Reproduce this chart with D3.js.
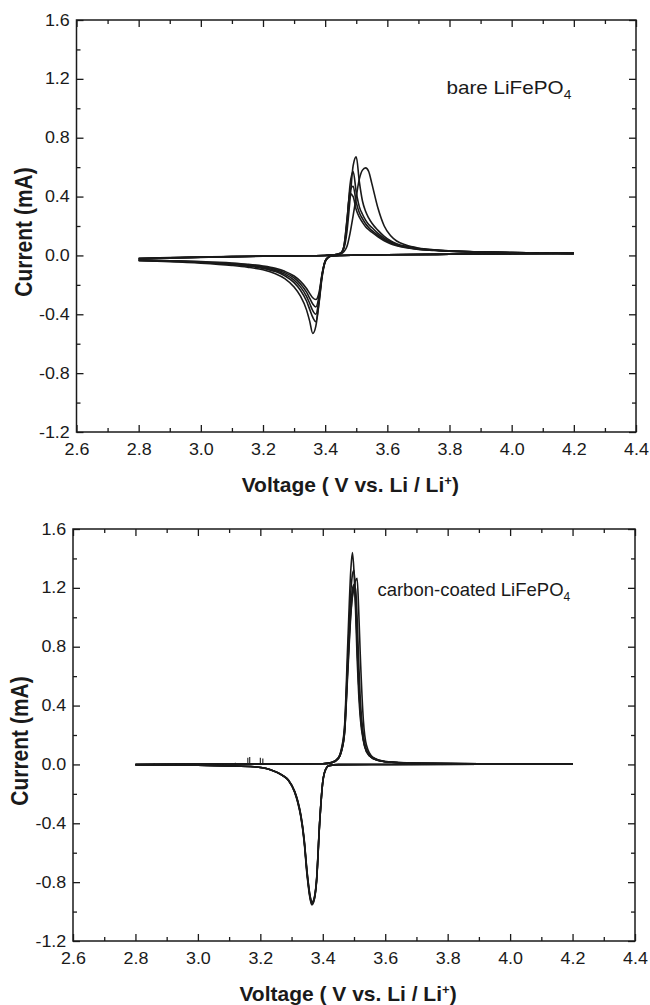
<!DOCTYPE html>
<html>
<head>
<meta charset="utf-8">
<script src="https://cdnjs.cloudflare.com/ajax/libs/d3/7.8.5/d3.min.js"></script>
<style>
body { margin: 0; background: #fff; }
svg { display: block; }
</style>
</head>
<body>
<div id="chart"></div>
<script>
// axis ticks
let xTicks = [2.6, 2.8, 3.0, 3.2, 3.4, 3.6, 3.8, 4.0, 4.2, 4.4];
let xMinor = [2.7, 2.9, 3.1, 3.3, 3.5, 3.7, 3.9, 4.1, 4.3];
let yTicks = [-1.2, -0.8, -0.4, 0.0, 0.4, 0.8, 1.2, 1.6];
let yMinor = [-1.0, -0.6, -0.2, 0.2, 0.6, 1.0, 1.4];

// bare LiFePO4 : anodic sweeps (2.8 -> 4.2 V)
let topAnV = [2.80, 2.90, 3.00, 3.10, 3.20, 3.30, 3.40, 3.43, 3.45, 3.46, 3.47, 3.48, 3.49, 3.50, 3.51, 3.52, 3.53, 3.54, 3.55, 3.57, 3.59, 3.61, 3.63, 3.66, 3.70, 3.75, 3.80, 3.90, 4.00, 4.10, 4.20];
let topAn1 = [-0.020, -0.015, -0.011, -0.008, -0.005, -0.003, 0.000, 0.003, 0.010, 0.025, 0.060, 0.150, 0.270, 0.400, 0.520, 0.580, 0.595, 0.570, 0.490, 0.320, 0.200, 0.135, 0.098, 0.070, 0.050, 0.038, 0.031, 0.024, 0.019, 0.016, 0.014];
let topAn2 = [-0.022, -0.016, -0.012, -0.008, -0.005, -0.003, 0.000, 0.004, 0.014, 0.045, 0.160, 0.380, 0.610, 0.670, 0.500, 0.370, 0.300, 0.255, 0.220, 0.170, 0.130, 0.100, 0.080, 0.062, 0.047, 0.037, 0.031, 0.024, 0.019, 0.016, 0.014];
let topAn3 = [-0.022, -0.016, -0.012, -0.008, -0.005, -0.003, 0.000, 0.004, 0.016, 0.055, 0.210, 0.480, 0.570, 0.430, 0.330, 0.280, 0.240, 0.210, 0.190, 0.150, 0.118, 0.093, 0.075, 0.058, 0.045, 0.036, 0.030, 0.024, 0.019, 0.016, 0.014];
let topAn4 = [-0.023, -0.017, -0.012, -0.008, -0.005, -0.003, 0.000, 0.004, 0.016, 0.058, 0.230, 0.440, 0.470, 0.360, 0.290, 0.250, 0.215, 0.190, 0.170, 0.137, 0.108, 0.086, 0.070, 0.055, 0.043, 0.035, 0.029, 0.023, 0.019, 0.016, 0.014];
let topAn5 = [-0.024, -0.018, -0.013, -0.009, -0.006, -0.003, 0.000, 0.004, 0.017, 0.060, 0.240, 0.420, 0.400, 0.310, 0.260, 0.225, 0.195, 0.175, 0.158, 0.127, 0.100, 0.080, 0.066, 0.052, 0.041, 0.034, 0.028, 0.023, 0.018, 0.015, 0.014];

// bare LiFePO4 : cathodic sweeps (4.2 -> 2.8 V)
let topCaV = [2.80, 2.90, 3.00, 3.10, 3.15, 3.20, 3.24, 3.27, 3.30, 3.32, 3.34, 3.35, 3.36, 3.37, 3.38, 3.39, 3.40, 3.41, 3.42, 3.45, 3.50, 3.60, 3.80, 4.00, 4.20];
let topCa1 = [-0.036, -0.042, -0.052, -0.068, -0.080, -0.098, -0.125, -0.158, -0.215, -0.275, -0.370, -0.445, -0.530, -0.480, -0.330, -0.150, -0.045, -0.014, -0.004, 0.000, 0.002, 0.005, 0.008, 0.011, 0.013];
let topCa2 = [-0.034, -0.040, -0.048, -0.062, -0.073, -0.088, -0.110, -0.138, -0.185, -0.235, -0.310, -0.365, -0.420, -0.450, -0.320, -0.140, -0.042, -0.013, -0.004, 0.000, 0.002, 0.005, 0.008, 0.011, 0.013];
let topCa3 = [-0.033, -0.039, -0.046, -0.058, -0.068, -0.082, -0.102, -0.127, -0.168, -0.212, -0.278, -0.325, -0.375, -0.400, -0.300, -0.135, -0.040, -0.013, -0.004, 0.000, 0.002, 0.005, 0.008, 0.011, 0.013];
let topCa4 = [-0.032, -0.037, -0.044, -0.055, -0.064, -0.077, -0.095, -0.117, -0.153, -0.192, -0.250, -0.290, -0.330, -0.350, -0.280, -0.130, -0.038, -0.012, -0.004, 0.000, 0.002, 0.005, 0.008, 0.011, 0.013];
let topCa5 = [-0.031, -0.036, -0.042, -0.052, -0.060, -0.072, -0.088, -0.108, -0.140, -0.175, -0.225, -0.258, -0.288, -0.300, -0.255, -0.125, -0.036, -0.012, -0.004, 0.000, 0.002, 0.005, 0.008, 0.011, 0.013];

// carbon-coated LiFePO4 : anodic sweeps
let botAnV = [2.80, 3.00, 3.20, 3.40, 3.43, 3.45, 3.46, 3.47, 3.48, 3.49, 3.495, 3.50, 3.505, 3.51, 3.515, 3.52, 3.53, 3.54, 3.56, 3.60, 3.70, 3.90, 4.20];
let botAn1 = [0.000, 0.002, 0.003, 0.005, 0.014, 0.045, 0.110, 0.270, 0.820, 1.330, 1.440, 1.310, 1.050, 0.720, 0.480, 0.320, 0.160, 0.085, 0.040, 0.018, 0.008, 0.004, 0.003];
let botAn2 = [0.000, 0.002, 0.003, 0.005, 0.014, 0.045, 0.100, 0.250, 0.720, 1.180, 1.290, 1.320, 1.150, 0.850, 0.550, 0.360, 0.170, 0.090, 0.042, 0.018, 0.008, 0.004, 0.003];
let botAn3 = [0.000, 0.002, 0.003, 0.005, 0.013, 0.040, 0.090, 0.220, 0.620, 1.020, 1.150, 1.210, 1.250, 1.265, 1.050, 0.750, 0.300, 0.130, 0.050, 0.020, 0.009, 0.004, 0.003];
let botAn4 = [0.000, 0.002, 0.003, 0.005, 0.013, 0.040, 0.095, 0.230, 0.680, 1.080, 1.190, 1.220, 1.100, 0.820, 0.550, 0.370, 0.170, 0.090, 0.042, 0.018, 0.008, 0.004, 0.003];
let botAn5 = [0.000, 0.002, 0.003, 0.005, 0.013, 0.040, 0.090, 0.220, 0.650, 1.040, 1.140, 1.190, 1.200, 1.000, 0.700, 0.450, 0.200, 0.100, 0.045, 0.019, 0.008, 0.004, 0.003];

// carbon-coated LiFePO4 : cathodic sweeps
let botCaV = [2.80, 3.00, 3.10, 3.18, 3.23, 3.27, 3.29, 3.31, 3.32, 3.33, 3.34, 3.35, 3.36, 3.365, 3.37, 3.38, 3.39, 3.40, 3.41, 3.42, 3.45, 3.60, 4.20];
let botCa1 = [-0.002, -0.006, -0.010, -0.016, -0.035, -0.075, -0.110, -0.190, -0.260, -0.360, -0.520, -0.760, -0.920, -0.955, -0.940, -0.800, -0.400, -0.120, -0.030, -0.008, -0.001, 0.000, 0.002];
let botCa2 = [-0.002, -0.006, -0.010, -0.016, -0.034, -0.073, -0.107, -0.185, -0.252, -0.350, -0.505, -0.740, -0.905, -0.940, -0.930, -0.790, -0.395, -0.118, -0.030, -0.008, -0.001, 0.000, 0.002];
let botCa3 = [-0.002, -0.006, -0.010, -0.016, -0.034, -0.072, -0.105, -0.182, -0.248, -0.345, -0.500, -0.735, -0.900, -0.935, -0.925, -0.785, -0.390, -0.117, -0.029, -0.008, -0.001, 0.000, 0.002];
let botCa4 = [-0.002, -0.006, -0.010, -0.016, -0.035, -0.074, -0.108, -0.188, -0.256, -0.355, -0.512, -0.750, -0.912, -0.948, -0.935, -0.795, -0.398, -0.119, -0.030, -0.008, -0.001, 0.000, 0.002];

// small noise spikes on the carbon-coated baseline
let spikeV = [2.86, 2.93, 2.99, 3.04, 3.09, 3.12, 3.160, 3.166, 3.200, 3.208];
let spikeI = [0.006, 0.008, 0.006, 0.010, 0.008, 0.012, 0.045, 0.050, 0.045, 0.040];

let font = "'Liberation Sans', Arial, Helvetica, sans-serif";
let ink = "#1a1a1a";

let svg = d3.select("#chart").append("svg")
	.attr("width", 650)
	.attr("height", 1005);

function zip(v, c) {
	return v.map(function(d, i) { return [d, c[i]]; });
}

function drawPanel(p) {
	let x = d3.scaleLinear().domain([2.6, 4.4]).range([p.left, p.right]);
	let y = d3.scaleLinear().domain([-1.2, 1.6]).range([p.bottom, p.top]);
	let g = svg.append("g");

	let line = d3.line()
		.x(function(d) { return x(d[0]); })
		.y(function(d) { return y(d[1]); })
		.curve(d3.curveMonotoneX);

	// sweeps
	p.curves.forEach(function(c) {
		g.append("path")
			.attr("d", line(c))
			.attr("fill", "none")
			.attr("stroke", ink)
			.attr("stroke-width", 1.6)
			.attr("stroke-linejoin", "round");
	});

	if (p.spikes) {
		g.selectAll(".spike")
			.data(p.spikes)
			.enter().append("line")
			.attr("class", "spike")
			.attr("x1", function(d) { return x(d[0]); })
			.attr("x2", function(d) { return x(d[0]); })
			.attr("y1", y(0))
			.attr("y2", function(d) { return y(d[1]); })
			.attr("stroke", ink)
			.attr("stroke-width", 1.1);
	}

	let fmt = function(d) { return d.toFixed(1); };

	// labelled axes, ticks pointing inward
	g.append("g").attr("transform", "translate(0," + p.bottom + ")")
		.call(d3.axisBottom(x).tickValues(xTicks).tickSize(-7).tickPadding(12).tickFormat(fmt));
	g.append("g").attr("transform", "translate(" + p.left + ",0)")
		.call(d3.axisLeft(y).tickValues(yTicks).tickSize(-7).tickPadding(6).tickFormat(fmt));
	g.append("g").attr("transform", "translate(0," + p.top + ")")
		.call(d3.axisTop(x).tickValues(xTicks).tickSize(-7).tickFormat(""));
	g.append("g").attr("transform", "translate(" + p.right + ",0)")
		.call(d3.axisRight(y).tickValues(yTicks).tickSize(-7).tickFormat(""));

	// minor ticks
	g.append("g").attr("transform", "translate(0," + p.bottom + ")")
		.call(d3.axisBottom(x).tickValues(xMinor).tickSize(-4).tickFormat(""));
	g.append("g").attr("transform", "translate(0," + p.top + ")")
		.call(d3.axisTop(x).tickValues(xMinor).tickSize(-4).tickFormat(""));
	g.append("g").attr("transform", "translate(" + p.left + ",0)")
		.call(d3.axisLeft(y).tickValues(yMinor).tickSize(-4).tickFormat(""));
	g.append("g").attr("transform", "translate(" + p.right + ",0)")
		.call(d3.axisRight(y).tickValues(yMinor).tickSize(-4).tickFormat(""));

	g.selectAll(".domain").remove();
	g.selectAll(".tick line").attr("stroke", ink).attr("stroke-width", 1.3);
	g.selectAll(".tick text")
		.attr("fill", ink)
		.style("font-family", font)
		.style("font-size", "16px")
		.attr("transform", "scale(1.12,1)");

	// frame
	g.append("rect")
		.attr("x", p.left)
		.attr("y", p.top)
		.attr("width", p.right - p.left)
		.attr("height", p.bottom - p.top)
		.attr("fill", "none")
		.attr("stroke", ink)
		.attr("stroke-width", 1.5);

	// axis titles
	let xt = g.append("text")
		.attr("x", (p.left + p.right) / 2 - 6)
		.attr("y", p.bottom + 60)
		.attr("text-anchor", "middle")
		.attr("fill", ink)
		.style("font-family", font)
		.style("font-size", "21px")
		.style("font-weight", "bold");
	xt.append("tspan").text("Voltage ( V vs. Li / Li");
	xt.append("tspan").attr("dy", -7).style("font-size", "13px").text("+");
	xt.append("tspan").attr("dy", 7).text(")");

	g.append("text")
		.attr("transform", "translate(" + (p.left - 45) + "," + ((p.top + p.bottom) / 2 + 6) + ") scale(1.18,1) rotate(-90)")
		.attr("text-anchor", "middle")
		.attr("fill", ink)
		.style("font-family", font)
		.style("font-size", "21px")
		.style("font-weight", "bold")
		.text("Current (mA)");

	// sample label
	let lab = g.append("text")
		.attr("transform", "translate(" + x(p.label.v) + "," + y(p.label.i) + ") scale(" + p.label.sx + ",1)")
		.attr("fill", ink)
		.style("font-family", font)
		.style("font-size", p.label.size + "px");
	lab.append("tspan").text(p.label.text);
	lab.append("tspan").attr("dy", 5).style("font-size", "12px").text("4");
}

drawPanel({
	left: 76.5, right: 636, top: 20, bottom: 432,
	curves: [zip(topAnV, topAn1), zip(topAnV, topAn2), zip(topAnV, topAn3), zip(topAnV, topAn4), zip(topAnV, topAn5),
		zip(topCaV, topCa1), zip(topCaV, topCa2), zip(topCaV, topCa3), zip(topCaV, topCa4), zip(topCaV, topCa5)],
	label: { text: "bare LiFePO", v: 3.79, i: 1.10, size: 18, sx: 1.15 }
});

drawPanel({
	left: 73, right: 635, top: 529, bottom: 941,
	curves: [zip(botAnV, botAn1), zip(botAnV, botAn2), zip(botAnV, botAn3), zip(botAnV, botAn4), zip(botAnV, botAn5),
		zip(botCaV, botCa1), zip(botCaV, botCa2), zip(botCaV, botCa3), zip(botCaV, botCa4)],
	spikes: zip(spikeV, spikeI),
	label: { text: "carbon-coated LiFePO", v: 3.575, i: 1.144, size: 18.5, sx: 1 }
});
</script>
</body>
</html>
